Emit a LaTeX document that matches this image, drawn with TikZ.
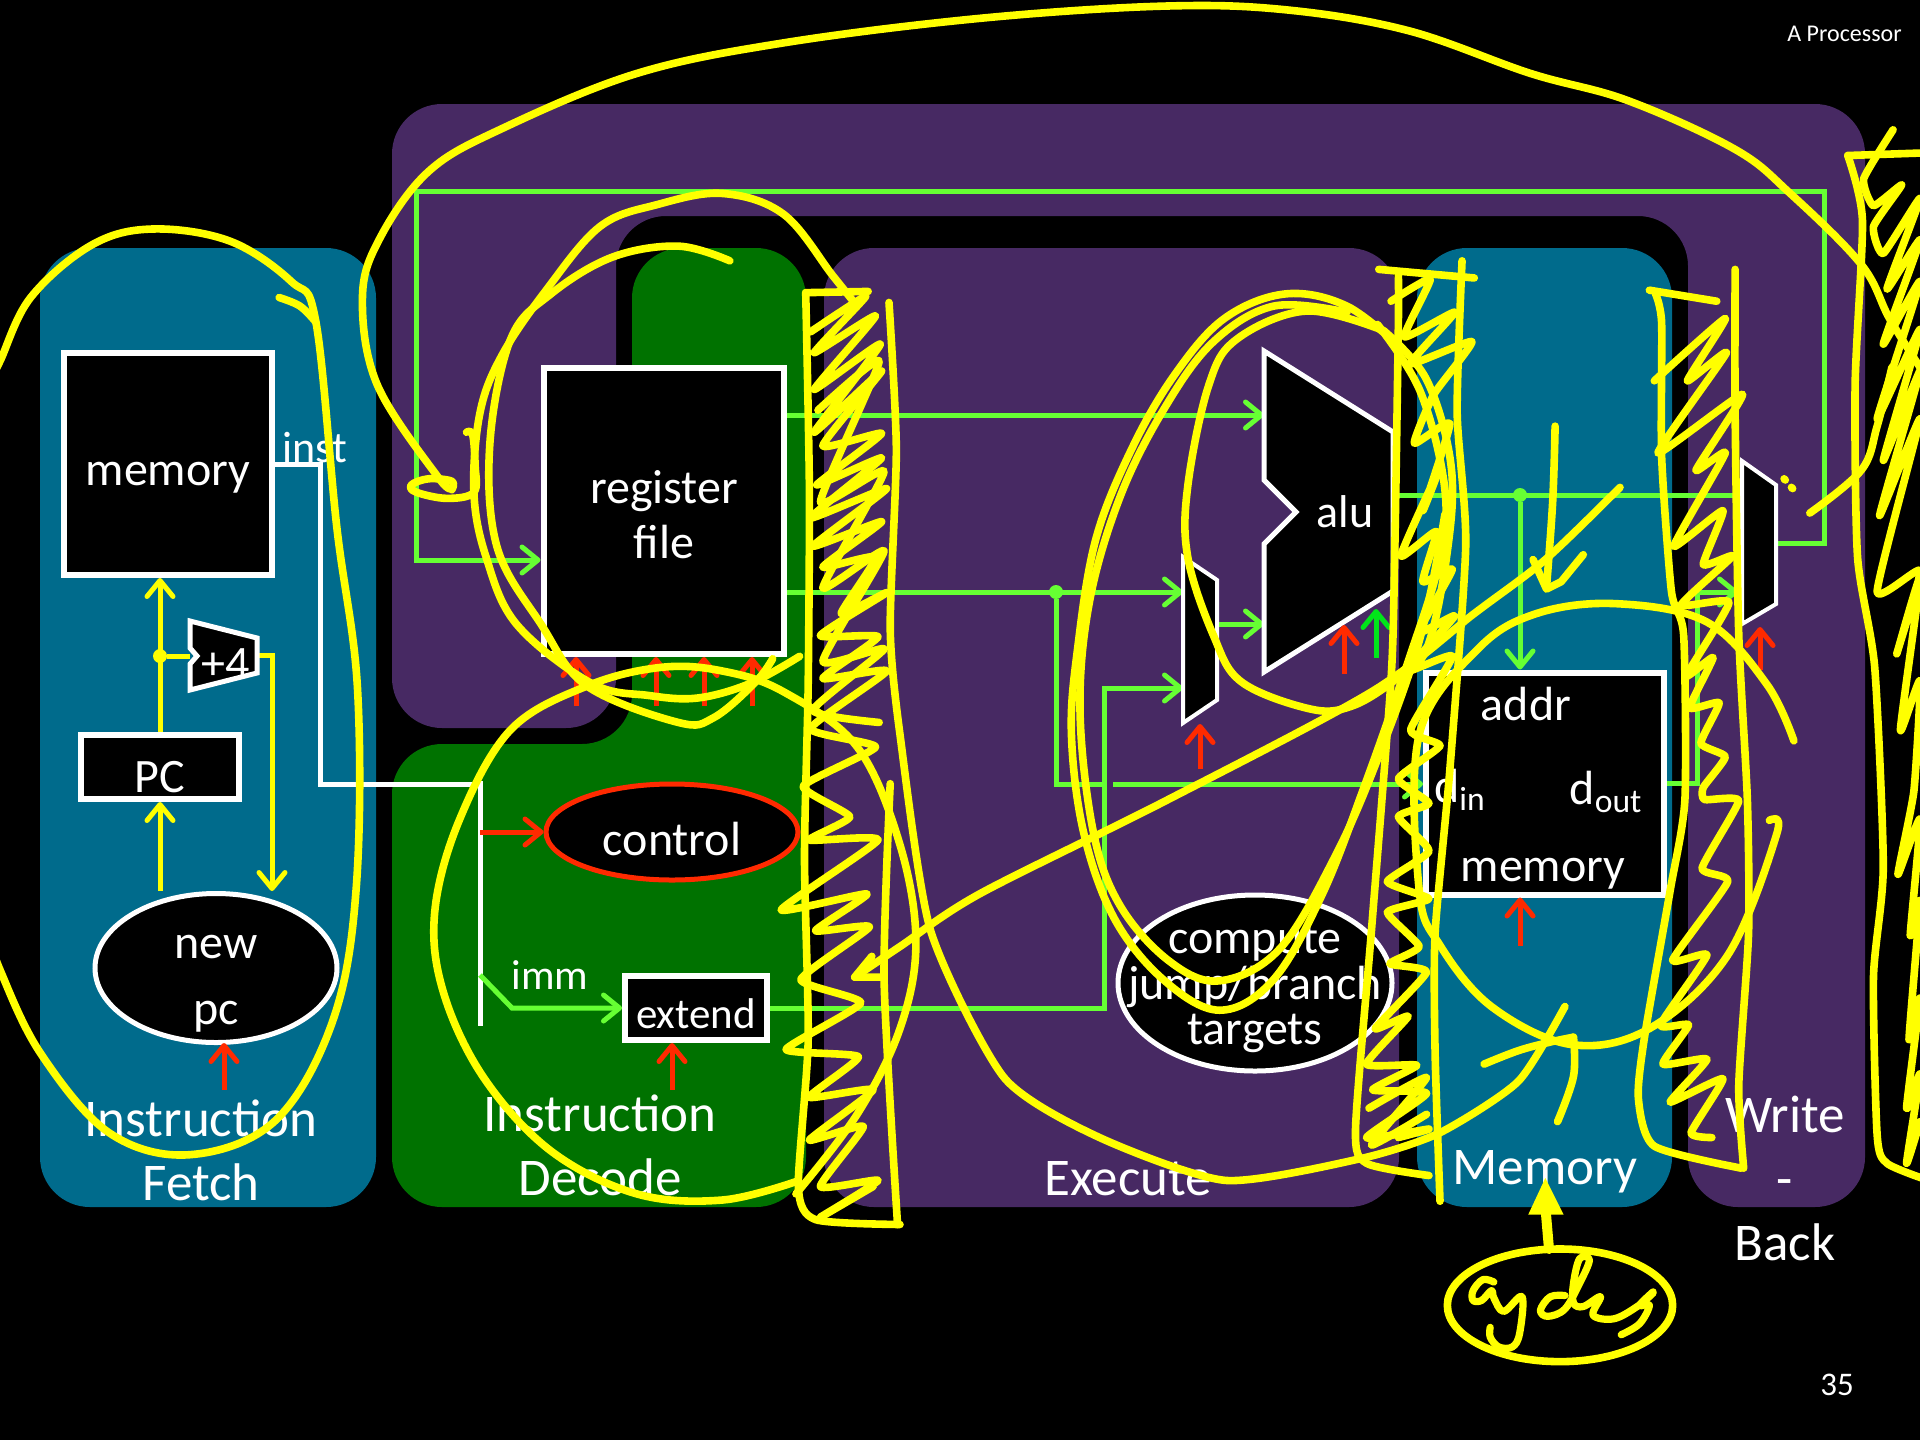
\documentclass[tikz,border=0pt]{standalone}
\usepackage{fontspec}
\setmainfont{Carlito}
\usetikzlibrary{shapes.geometric, arrows.meta, positioning, calc}
\definecolor{panelteal}{HTML}{006B8C}
\definecolor{panelgreen}{HTML}{007200}
\definecolor{panelpurple}{HTML}{472963}
\definecolor{wiregreen}{HTML}{66FF33}
\definecolor{ctrlred}{HTML}{FF2A00}
\definecolor{ctrlgreen}{HTML}{00E61A}
\definecolor{inkyellow}{HTML}{FFFF00}
\begin{document}
\begin{tikzpicture}[
      x=0.5pt, y=-0.5pt,
      block/.style={rectangle, draw=white, line width=3pt, fill=black, text=white, inner sep=0pt, align=center, font=\fontsize{24}{29}\selectfont},
      blob/.style={ellipse, draw=white, line width=2.5pt, fill=black, text=white, inner sep=0pt, align=center, font=\fontsize{24}{29}\selectfont},
      unit/.style={draw=white, line width=2.5pt, fill=black, line join=miter},
      stage/.style={text=white, align=center, font=\fontsize{26.5}{32}\selectfont},
      small/.style={text=white, inner sep=0pt, font=\fontsize{21.5}{24}\selectfont},
      port/.style={text=white, inner sep=0pt, align=center, font=\fontsize{24}{29}\selectfont},
      tip/.style={-{Straight Barb[length=8pt, width=13pt, round]}},
      wire/.style={draw=wiregreen, line width=2.5pt},
      pcwire/.style={draw=inkyellow, line width=2.5pt},
      bus/.style={draw=white, line width=2.5pt},
      ctrl/.style={draw=ctrlred, line width=2.5pt, tip},
      joint/.style={circle, inner sep=0pt, minimum size=7pt},
      ink/.style={draw=inkyellow, line width=3.8pt, line cap=round, line join=round}
    ]
    \useasboundingbox (0,0) rectangle (1920,1440);
    \clip (0,0) rectangle (1920,1440);
    \fill[black] (0,0) rectangle (1920,1440);

    \fill[panelpurple, rounded corners=25pt] (392,104) -- (1865,104) -- (1865,1207) -- (1688,1207) -- (1688,216) -- (616,216) -- (616,728) -- (392,728) -- cycle;
    \fill[panelgreen, rounded corners=25pt] (392,744) -- (632,744) -- (632,248) -- (806,248) -- (806,1207) -- (392,1207) -- cycle;
    \fill[panelteal, rounded corners=25pt] (40,248) rectangle (376,1207);
    \fill[panelpurple, rounded corners=25pt] (824,248) rectangle (1399,1207);
    \fill[panelteal, rounded corners=25pt] (1417,248) rectangle (1672,1207);

    \node[block, minimum width=104pt, minimum height=111pt, text height=25pt] (imem) at (168,464) {memory};
    \node[block, minimum width=79pt, minimum height=32pt, text height=25.5pt] (pc) at (160,767) {PC};
    \node[blob, minimum width=121pt, minimum height=74.5pt] (newpc) at (216,968) {};
    \node[block, minimum width=120pt, minimum height=143pt] (regfile) at (663.5,511) {};
    \node[blob, draw=ctrlred, minimum width=126pt, minimum height=48pt, text height=23.7pt] (control) at (672,832) {control};
    \node[block, minimum width=71pt, minimum height=32pt, text height=21pt, font=\fontsize{21.5}{24}\selectfont] (extend) at (696,1008) {extend};
    \node[blob, minimum width=137pt, minimum height=88pt] (targets) at (1255,983) {};
    \node[block, minimum width=119pt, minimum height=111pt] (dmem) at (1545,783.5) {};

    \coordinate (alua) at (1264,415);
    \coordinate (alub) at (1264,624);
    \coordinate (aluout) at (1393,495);
    \coordinate (muxa) at (1183,592);
    \coordinate (muxb) at (1183,688);
    \coordinate (muxout) at (1217,624);
    \coordinate (wbmuxa) at (1738,592);
    \coordinate (wbmuxb) at (1745,495);
    \coordinate (wbmuxout) at (1776,543);
    \coordinate (addin) at (190,656);
    \coordinate (addout) at (257,655);

    \node[joint, fill=inkyellow] (pcdot) at (160,656) {};
    \node[joint, fill=wiregreen] (rsdot) at (1056,592) {};
    \node[joint, fill=wiregreen] (aludot) at (1520,495) {};

    \draw[pcwire, tip] (newpc.north -| pc) -- (pc.south);
    \draw[pcwire, tip] (pc.north) -- (imem.south -| pc);
    \draw[pcwire] (pcdot) -- (addin);
    \draw[pcwire, tip] (addout) -| (newpc.north -| 272,0);

    \draw[bus] (imem.east) -- (320,464) |- (480,784);
    \draw[bus] (480,781) -- (480,1026);
    \draw[ctrl] (480,832) -- (control.west);
    \draw[wire, tip] (480,975) -- (512,1008) -- (extend.west);

    \draw[wire, tip] (wbmuxout) -- (1824,543) -- (1824,191) -- (416,191) |- (regfile.west |- 0,560);
    \draw[wire, tip] (regfile.east |- alua) -- (alua);
    \draw[wire, tip] (regfile.east |- muxa) -- (muxa);
    \draw[wire] (rsdot) |- (1104,784);
    \draw[wire, tip] (1113,784) -- (dmem.west |- 0,784);
    \draw[wire, tip] (extend.east) -- (1104,1008) |- (muxb);
    \draw[wire, tip] (muxout) -- (alub);
    \draw[wire] (aluout) -- (wbmuxb);
    \draw[wire, tip] (aludot) -- (aludot |- dmem.north);
    \draw[wire, tip] (dmem.east |- 0,783) -- (1697,783) |- (wbmuxa);

    \draw[unit] (190,621) -- (257,638) -- (257,673) -- (190,690) -- (190,664) -- (197,656) -- (190,648) -- cycle;
    \draw[unit] (1264,351) -- (1393,432) -- (1393,591) -- (1264,672) -- (1264,544) -- (1296,512) -- (1264,480) -- cycle;
    \draw[unit, line width=2pt] (1183,557) -- (1217,580) -- (1217,700) -- (1183,723) -- cycle;
    \draw[unit, line width=2pt] (1742,461) -- (1776,485) -- (1776,604) -- (1742,624) -- cycle;

    \node[port] (addlabel) at (226,664) {+4};
    \node[port, font=\fontsize{23}{26}\selectfont] (alulabel) at (1345,512) {alu};
    \node[port, font=\fontsize{24}{33}\selectfont] (newpclabel) at (216,984) {new\\pc};
    \node[port, font=\fontsize{24}{27.5}\selectfont] (regfilelabel) at (664,515) {register\\file};
    \node[port, font=\fontsize{24}{22.6}\selectfont] (targetslabel) at (1255,988) {compute\\jump/branch\\targets};
    \node[small, font=\fontsize{22}{24}\selectfont] (instlabel) at (315,448) {inst};
    \node[small, font=\fontsize{21}{24}\selectfont] (immlabel) at (550,975) {imm};
    \node[port] (addrlabel) at (1526,704) {addr};
    \node[port] (dinlabel) at (1460,790) {d\textsubscript{in}};
    \node[port] (doutlabel) at (1606,792) {d\textsubscript{out}};
    \node[port] (memlabel) at (1543,874) {memory};

    \foreach \i/\xp in {a/576,b/656,c/704,d/752} {
      \coordinate (rf\i) at (\xp,706);
      \draw[ctrl] (rf\i) -- (rf\i |- regfile.south);
    }
    \coordinate (pcctl) at (224,1090);
    \coordinate (extctl) at (672,1090);
    \coordinate (muxctl) at (1200,769);
    \coordinate (aluctl) at (1344,674);
    \coordinate (alucc) at (1376,658);
    \coordinate (memctl) at (1520,946);
    \coordinate (wbctl) at (1760,670);
    \draw[ctrl] (pcctl) -- (224,1043);
    \draw[ctrl] (extctl) -- (extctl |- extend.south);
    \draw[ctrl] (muxctl) -- (1200,724);
    \draw[ctrl] (aluctl) -- (1344,625);
    \draw[ctrl, draw=ctrlgreen] (alucc) -- (1376,609);
    \draw[ctrl] (memctl) -- (memctl |- dmem.south);
    \draw[ctrl] (wbctl) -- (1760,627);

    \node[stage] (fetchlabel) at (201,1150) {Instruction\\Fetch};
    \node[stage] (decodelabel) at (600,1145) {Instruction\\Decode};
    \node[stage] (execlabel) at (1128,1179) {Execute};
    \node[stage] (memstage) at (1545,1172) {Memory};
    \node[stage] (wblabel) at (1785,1178) {Write\\-\\Back};
    \node[text=white, anchor=east, inner sep=0pt, font=\fontsize{12}{14}\selectfont] (title) at (1902,34) {A Processor};
    \node[text=white, inner sep=0pt, font=\fontsize{16.5}{19}\selectfont] (pageno) at (1837,1385) {35};

    \begin{scope}[x=0.61224pt, y=-0.61224pt]
      \draw[ink] plot[smooth, tension=.6] coordinates {(228,243) (245,250) (258,263)};
      \draw[ink] plot[smooth, tension=.6] coordinates {(-10,315) (0,295) (25,243) (75,200) (125,187) (188,197) (238,230) (258,263) (275,430) (292,563) (291,724) (272,833) (225,915) (155,943) (89,925) (33,860) (0,792) (-10,760)};
      \draw[ink] plot[smooth, tension=.6] coordinates {(369,398) (358,390) (308,314) (296,243) (310,195) (350,140) (410,105) (520,60) (640,35) (800,15) (950,5) (1050,8) (1150,25) (1250,60) (1329,82) (1417,122) (1462,158) (1520,216) (1543,260) (1568,300)};
      \draw[ink] plot[smooth, tension=.6] coordinates {(381,353) (386,355) (388,380) (387,402) (365,407) (340,402) (336,396) (350,391) (369,393) (369,400)};
      \draw[ink] plot[smooth, tension=.6] coordinates {(596,213) (554,201) (500,210) (450,240) (417,277) (400,363) (406,447) (442,510) (479,560) (554,590) (583,586) (617,557) (631,538)};
      \draw[ink] plot[smooth, tension=.6] coordinates {(700,250) (680,225) (640,175) (590,158) (537,167) (490,185) (446,237) (410,290) (392,337) (387,402) (397,455) (422,510) (483,558) (530,568) (570,570) (613,558) (653,536)};
      \draw[ink] plot[smooth, tension=.6] coordinates {(650,975) (700,910) (735,840) (748,770) (735,690) (700,610) (640,565) (590,548) (540,545) (480,560) (417,596) (375,670) (355,745) (362,810) (395,880) (450,940) (520,975) (590,980) (650,965)};

      \draw[ink] plot[smooth, tension=.4] coordinates {(658,239) (661,400) (660,560) (657,700) (660,850) (652,969) (666,996) (735,1000)};
      \draw[ink] (658,239) -- (709,238);
      \draw[ink] plot[smooth, tension=.4] coordinates {(726,247) (732,367) (727,513) (735,600) (760,760) (820,880) (898,929) (1001,964) (1112,946) (1176,925) (1240,883) (1278,822)};
      \draw[ink] plot[smooth, tension=.4] coordinates {(727,640) (722,800) (733,1000)};
      \draw[ink] plot[smooth, tension=.3] coordinates {(662,271) (707,242) (665,288) (715,258) (665,318) (719,281) (665,353) (720,303) (672,364) (720,354) (667,396) (720,374) (662,423) (724,399) (664,446) (720,426) (672,463) (715,455) (687,501) (724,484) (670,519) (717,520) (672,554) (724,548) (662,595) (715,610) (656,642) (694,667) (661,686) (717,686) (638,743) (708,730) (666,760) (710,757) (654,800) (703,819) (642,857) (701,863) (661,896) (713,890) (661,931) (705,920) (670,969) (717,964) (670,994) (713,969)};
      \draw[ink] plot[smooth, tension=.3] coordinates {(668,335) (718,295) (670,410) (722,385) (672,480) (722,450) (672,540) (722,530) (664,580) (718,590)};
      \draw[ink] plot[smooth, tension=.5] coordinates {(1323,398) (1262,457) (1204,501) (1120,565) (950,655) (800,730) (735,773) (698,798)};
      \draw[ink] (712,781) -- (698,798) -- (722,798);

      \draw[ink] plot[smooth, tension=.6] coordinates {(1145,285) (1100,250) (1050,240) (1000,260) (960,305) (925,365) (895,440) (880,530) (875,600) (885,680) (910,750) (950,800) (996,825) (1040,800) (1080,730) (1115,640) (1150,540) (1175,460) (1180,400) (1160,320) (1125,265)};
      \draw[ink] plot[smooth, tension=.6] coordinates {(1100,255) (1040,250) (990,280) (950,335) (915,405) (890,490) (882,580) (893,680) (915,740) (955,785) (996,801) (1045,775) (1090,700) (1125,620) (1160,520) (1180,420)};
      \draw[ink] plot[smooth, tension=.6] coordinates {(1130,270) (1067,254) (1010,277) (987,315) (970,397) (970,455) (991,519) (1014,557) (1070,579) (1103,577) (1137,557) (1165,530) (1182,450) (1185,380) (1165,310) (1130,270)};

      \draw[ink] (1126,220) -- (1204,227);
      \draw[ink] plot[smooth, tension=.4] coordinates {(1142,225) (1142,264) (1139,453) (1136,555) (1120,760) (1107,922) (1116,950) (1167,960)};
      \draw[ink] plot[smooth, tension=.4] coordinates {(1194,213) (1190,337) (1197,446) (1184,629) (1172,762) (1172,860) (1176,981)};
      \draw[ink] plot[smooth, tension=.3] coordinates {(1136,246) (1168,228) (1147,275) (1188,255) (1152,297) (1202,279) (1171,322) (1155,362) (1184,346) (1162,417) (1175,384) (1144,454) (1173,434) (1162,475) (1186,465) (1159,516) (1188,503) (1149,548) (1186,536) (1152,596) (1176,609) (1142,636) (1167,656) (1142,667) (1167,695) (1133,720) (1167,734) (1133,745) (1159,773) (1135,787) (1165,794) (1123,840) (1150,830) (1116,869) (1157,870) (1121,890) (1165,893) (1116,929) (1167,922) (1142,929)};
      \draw[ink] plot[smooth, tension=.3] coordinates {(1118,905) (1165,880) (1120,935) (1165,910)};

      \draw[ink] (1347,237) -- (1402,246);
      \draw[ink] plot[smooth, tension=.4] coordinates {(1352,240) (1357,264) (1357,373) (1365,483) (1375,519) (1376,653) (1364,727) (1343,847) (1338,897) (1351,936) (1422,954)};
      \draw[ink] plot[smooth, tension=.4] coordinates {(1417,220) (1417,337) (1420,519) (1427,653) (1428,762) (1420,886) (1424,954)};
      \draw[ink] plot[smooth, tension=.3] coordinates {(1351,311) (1409,260) (1378,311) (1410,288) (1354,370) (1423,322) (1385,384) (1409,370) (1367,446) (1407,417) (1391,461) (1415,454) (1373,494) (1412,492) (1377,552) (1399,537) (1380,578) (1404,574) (1389,607) (1409,618) (1391,643) (1392,653) (1420,654) (1390,709) (1411,720) (1366,784) (1394,780) (1356,837) (1379,837) (1358,869) (1394,865) (1364,900) (1407,881) (1381,925) (1398,929)};

      \draw[ink] (1509,127) -- (1568,125);
      \draw[ink] plot[smooth, tension=.4] coordinates {(1509,127) (1521,180) (1515,314) (1517,455) (1531,545) (1538,708) (1530,798) (1533,927) (1541,950) (1575,964)};
      \draw[ink] plot[smooth, tension=.3] coordinates {(1546,106) (1522,146) (1530,168) (1553,151) (1530,185) (1538,207) (1568,162) (1541,236) (1568,196) (1538,281) (1568,230) (1533,342) (1568,269) (1538,376) (1568,303) (1535,421) (1568,342) (1533,483) (1568,466) (1549,534) (1568,472) (1552,596) (1568,556) (1563,646) (1550,714) (1568,669) (1560,764) (1568,736) (1559,849) (1568,815) (1557,905) (1568,877) (1557,950) (1568,916)};
      \draw[ink] plot[smooth, tension=.6] coordinates {(1478,419) (1520,384) (1533,348) (1545,300)};
      \draw[ink] (1457,391) -- (1458,392);
      \draw[ink] (1463,398) -- (1464,399);

      \draw[ink] plot[smooth, tension=.6] coordinates {(1270,348) (1268,410) (1263,479)};
      \draw[ink] (1252,457) -- (1263,481) -- (1275,475) -- (1293,453);
      \draw[ink] plot[smooth, tension=.6] coordinates {(1445,670) (1451,681) (1411,780) (1347,840) (1283,853) (1218,822) (1176,772) (1159,727) (1159,600) (1207,530) (1255,501) (1320,493) (1394,508) (1443,559) (1465,605)};
      \draw[ink] plot[smooth, tension=.6] coordinates {(1212,869) (1240,858) (1266,851) (1285,847)};
      \draw[ink] plot[smooth, tension=.6] coordinates {(1285,847) (1285,879) (1272,916)};

      \draw[ink] (1274,1066) ellipse [x radius=92, y radius=46];
      \draw[ink, line width=5pt] (1265,1020) -- (1262,985);
      \fill[inkyellow] (1262,962) -- (1277,992) -- (1248,992) -- cycle;
      \draw[ink, line width=3.6pt] plot[smooth, tension=.6] coordinates {(1220,1047) (1211,1045) (1203,1054) (1203,1062) (1210,1062) (1218,1054) (1220,1060) (1228,1071) (1243,1059) (1241,1089) (1235,1100) (1224,1100) (1217,1092) (1217,1084)};
      \draw[ink, line width=3.6pt] plot[smooth, tension=.6] coordinates {(1278,1058) (1266,1059) (1258,1070) (1264,1075) (1278,1069) (1290,1048) (1298,1029) (1290,1028) (1285,1048) (1285,1064) (1293,1067) (1307,1059) (1301,1074) (1318,1077) (1337,1067) (1350,1056)};
      \draw[ink, line width=3.6pt] plot[smooth, tension=.6] coordinates {(1350,1055) (1339,1066) (1347,1066) (1339,1081) (1324,1090)};
    \end{scope}
  \end{tikzpicture}
\end{document}
